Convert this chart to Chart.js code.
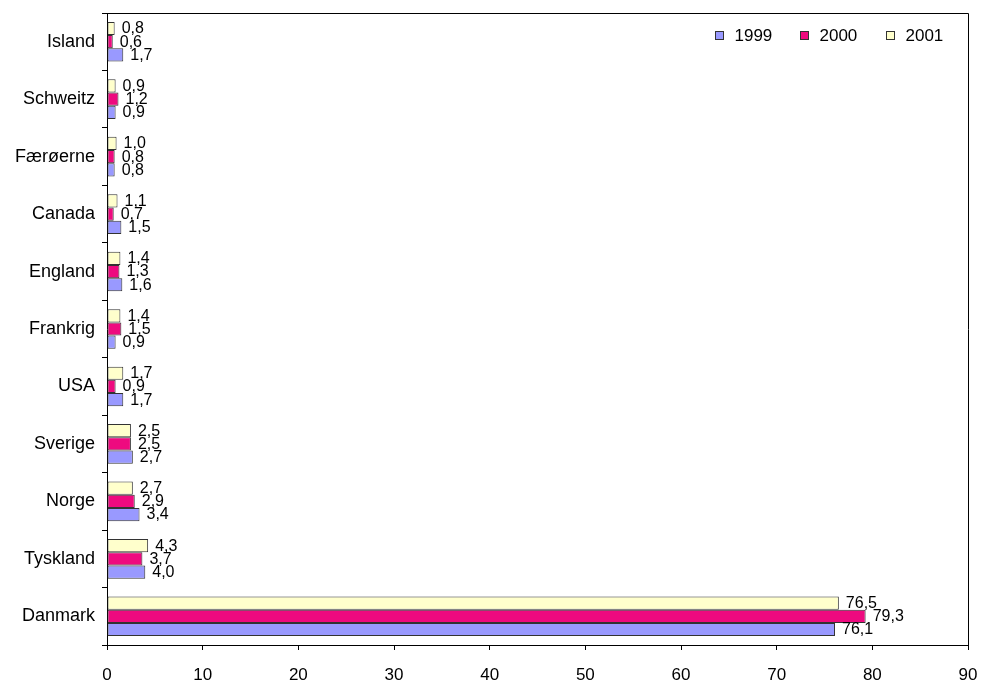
<!DOCTYPE html>
<html>
<head>
<meta charset="utf-8">
<script src="https://cdn.jsdelivr.net/npm/chart.js@4/dist/chart.umd.min.js"></script>
<style>
html,body{margin:0;padding:0;background:#fff;}
canvas{display:block;}
</style>
</head>
<body>
<canvas id="c" width="982" height="682"></canvas>
<script>
const categories = ['Island','Schweitz','Færøerne','Canada','England','Frankrig','USA','Sverige','Norge','Tyskland','Danmark'];
const values1999 = [1.7, 0.9, 0.8, 1.5, 1.6, 0.9, 1.7, 2.7, 3.4, 4.0, 76.1];
const values2000 = [0.6, 1.2, 0.8, 0.7, 1.3, 1.5, 0.9, 2.5, 2.9, 3.7, 79.3];
const values2001 = [0.8, 0.9, 1.0, 1.1, 1.4, 1.4, 1.7, 2.5, 2.7, 4.3, 76.5];
const seriesNames = ['1999','2000','2001'];
const xTicks = [0,10,20,30,40,50,60,70,80,90];

const colors = {'1999':'#9999FF','2000':'#EE0A7F','2001':'#FFFFCC'};
const FONT = "'Liberation Sans', Arial, sans-serif";

const frameAndLabels = {
  id: 'frameAndLabels',
  afterDatasetsDraw(chart) {
    const ctx = chart.ctx;
    ctx.save();
    ctx.font = '16px ' + FONT;
    ctx.fillStyle = '#000';
    ctx.textAlign = 'left';
    ctx.textBaseline = 'middle';
    chart.data.datasets.forEach((ds, di) => {
      const meta = chart.getDatasetMeta(di);
      meta.data.forEach((bar, i) => {
        const v = ds.data[i];
        const txt = v.toFixed(1).replace('.', ',');
        ctx.fillText(txt, bar.x + 7, bar.y + 0.5);
      });
    });
    ctx.restore();
  },
  afterDraw(chart) {
    const ctx = chart.ctx;
    const a = chart.chartArea;
    ctx.save();
    ctx.strokeStyle = '#000';
    ctx.lineWidth = 1;
    ctx.beginPath();
    ctx.moveTo(Math.round(a.left) + 0.5, Math.round(a.top) + 0.5);
    ctx.lineTo(Math.round(a.right) + 0.5, Math.round(a.top) + 0.5);
    ctx.lineTo(Math.round(a.right) + 0.5, Math.round(a.bottom) + 0.5);
    ctx.stroke();
    // legend
    const names = seriesNames;
    const boxX = [a.right - 253, a.right - 168, a.right - 82];
    ctx.font = '17px ' + FONT;
    ctx.textBaseline = 'middle';
    ctx.textAlign = 'left';
    names.forEach((n, k) => {
      const bx = Math.round(boxX[k]) + 0.5;
      const by = Math.round(a.top + 18) + 0.5;
      ctx.fillStyle = colors[n];
      ctx.fillRect(bx, by, 8, 8);
      ctx.strokeStyle = '#333';
      ctx.strokeRect(bx, by, 8, 8);
      ctx.fillStyle = '#000';
      ctx.fillText(n, bx + 19, by + 5);
    });
    ctx.restore();
  }
};

new Chart(document.getElementById('c'), {
  type: 'bar',
  data: {
    labels: categories,
    datasets: [
      {label: '2001', data: values2001, backgroundColor: colors['2001']},
      {label: '2000', data: values2000, backgroundColor: colors['2000']},
      {label: '1999', data: values1999, backgroundColor: colors['1999']}
    ].map(d => Object.assign(d, {borderColor: '#333', borderWidth: 1, borderSkipped: false,
      categoryPercentage: 0.69, barPercentage: 1.0}))
  },
  options: {
    indexAxis: 'y',
    responsive: false,
    animation: false,
    devicePixelRatio: 1,
    layout: {padding: {top: 13, right: 14, left: 0, bottom: 0}},
    plugins: {legend: {display: false}, tooltip: {enabled: false}},
    scales: {
      x: {
        type: 'linear',
        min: 0, max: 90,
        afterBuildTicks(scale) { scale.ticks = xTicks.map(v => ({value: v})); },
        afterFit(scale) { scale.height = 37; scale.paddingLeft = 0; scale.paddingRight = 0; },
        grid: {display: true, drawOnChartArea: false, drawTicks: true, tickLength: 5, color: '#000', lineWidth: 1},
        border: {display: true, color: '#000', width: 1},
        ticks: {color: '#000', font: {family: FONT, size: 17}, padding: 15, maxRotation: 0}
      },
      y: {
        type: 'category',
        afterFit(scale) { scale.width = 107; scale.paddingTop = 0; scale.paddingBottom = 0; },
        grid: {display: true, offset: true, drawOnChartArea: false, drawTicks: true, tickLength: 5, color: '#000', lineWidth: 1},
        border: {display: true, color: '#000', width: 1},
        ticks: {color: '#000', font: {family: FONT, size: 18}, padding: 7}
      }
    }
  },
  plugins: [frameAndLabels]
});
</script>
</body>
</html>
